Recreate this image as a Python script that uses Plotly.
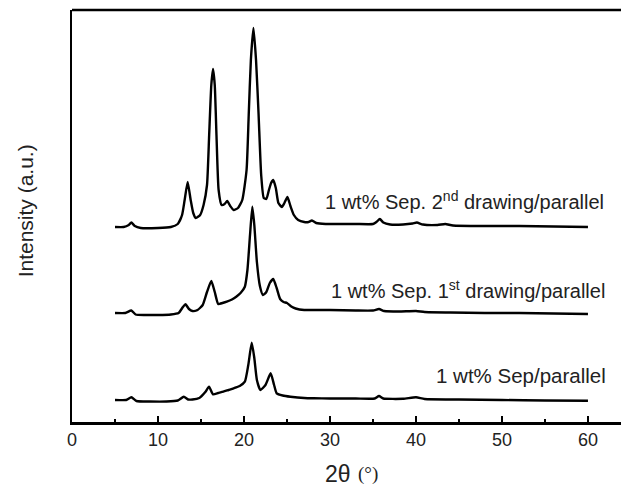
import plotly.graph_objects as go

# 2theta positions and intensities (arbitrary units)
top_x = [5.0, 6.0, 6.6, 6.9, 7.3, 8.0, 10.0, 11.5, 12.3, 12.8, 13.1, 13.45, 13.8, 14.1, 14.4, 14.9, 15.3,
         15.7, 15.95, 16.2, 16.4, 16.6, 16.8, 17.05, 17.4, 17.75, 18.05, 18.4, 18.8, 19.3, 19.8, 20.3,
         20.55, 20.8, 21.1, 21.4, 21.7, 22.0, 22.3, 22.6, 22.9, 23.15, 23.4, 23.7, 24.0, 24.4, 24.7,
         25.05, 25.4, 25.8, 26.3, 27.0, 27.5, 27.9, 28.4, 29.5, 31.0, 33.0, 35.0, 35.4, 35.8, 36.2,
         37.0, 38.5, 39.6, 40.1, 40.8, 42.5, 43.4, 44.3, 48.0, 52.0, 56.0, 60.0]
top_px = [227, 227, 225, 222.5, 226, 228, 228, 227, 224, 215, 200, 182, 200, 213, 218, 215, 205,
          185, 135, 85, 69, 85, 135, 190, 205, 204, 201, 206, 210, 208, 200, 170,
          115, 60, 28, 60, 115, 175, 198, 199, 190, 183, 180, 188, 203, 207, 203,
          197, 206, 215, 220, 222, 222, 220.5, 223, 224, 224, 224, 224, 222, 219, 222.5,
          224.5, 224.5, 223.5, 222.5, 224.5, 225, 224, 225.5, 226, 226, 226.5, 227]

mid_x = [5.0, 6.2, 6.9, 7.4, 8.5, 10.0, 11.5, 12.4, 12.9, 13.2, 13.6, 14.0, 14.6, 15.2, 15.7, 16.2,
         16.6, 17.0, 17.5, 18.0, 18.6, 19.1, 19.6, 20.1, 20.4, 20.7, 20.97, 21.2, 21.5, 21.85, 22.2,
         22.6, 23.0, 23.4, 23.8, 24.2, 24.6, 25.0, 25.5, 26.0, 27.0, 28.0, 30.0, 33.0, 35.0, 35.7,
         36.3, 38.0, 40.0, 41.0, 44.0, 48.0, 52.0, 56.0, 60.0]
mid_px = [313, 313, 310.5, 314.5, 315, 315, 314.5, 313, 307, 304.3, 309, 311, 310, 305, 292, 281,
          292, 304, 303, 301.7, 299.5, 296.7, 293, 286.7, 270, 235, 206.7, 225, 262, 286, 295,
          292, 283, 279, 288, 299, 302, 303, 306.5, 308.5, 310, 310, 310, 310.5, 310.5, 309,
          311, 311.5, 311, 312, 312.5, 313, 313, 313.5, 314]

bot_x = [5.0, 6.3, 6.9, 7.5, 9.0, 11.0, 12.3, 13.0, 13.5, 14.0, 14.8, 15.5, 15.93, 16.4, 17.0, 17.6,
         18.2, 18.8, 19.5, 20.1, 20.5, 20.9, 21.2, 21.5, 21.9, 22.5, 23.1, 23.5, 23.8, 24.5, 25.4,
         27.0, 28.1, 30.0, 33.0, 35.2, 35.7, 36.2, 38.5, 40.0, 41.0, 45.0, 50.0, 55.0, 60.0]
bot_px = [400, 400, 397.3, 401, 401.5, 401.5, 400.5, 396.7, 399.5, 399.5, 398, 392, 386.7, 394.3, 393, 391.7,
          390, 388.3, 386, 381.7, 365, 342.7, 358, 380, 390, 385, 373.3, 385, 393.3, 395.5, 396.7,
          398, 398.3, 398.5, 398.5, 398.5, 396, 398.5, 398.8, 397.3, 399, 399.5, 400, 400.5, 400.7]

BASE = 422
top_y = [BASE - v for v in top_px]
mid_y = [BASE - v for v in mid_px]
bot_y = [BASE - v for v in bot_px]

labels = ["1 wt% Sep. 2<sup>nd</sup> drawing/parallel",
          "1 wt% Sep. 1<sup>st</sup> drawing/parallel",
          "1 wt% Sep/parallel"]
label_x = [62.1, 62.2, 62.3]
label_y = [BASE - 200, BASE - 289, BASE - 375]

fig = go.Figure()
for xs, ys in [(top_x, top_y), (mid_x, mid_y), (bot_x, bot_y)]:
    fig.add_trace(go.Scatter(x=xs, y=ys, mode="lines",
                             line=dict(color="black", width=2.4, shape="spline", smoothing=0.5),
                             showlegend=False, hoverinfo="skip"))

label_sizes = [20, 20, 20.5]
for t, xx, yy, s in zip(labels, label_x, label_y, label_sizes):
    fig.add_annotation(x=xx, y=yy, text=t, showarrow=False, xanchor="right", yanchor="middle",
                       font=dict(family="Liberation Sans, Arial", size=s, color="#222"))

fig.add_annotation(xref="paper", yref="paper", x=-0.0822, y=0.512, text="Intensity (a.u.)",
                   textangle=-90, showarrow=False, xanchor="center", yanchor="middle",
                   font=dict(family="Liberation Sans, Arial", size=21, color="#222"))

fig.add_annotation(xref="paper", yref="paper", x=0.4947, y=-0.125, text="2θ",
                   showarrow=False, xanchor="right", yanchor="middle",
                   font=dict(family="Liberation Sans, Arial", size=23, color="#222"))
fig.add_annotation(xref="paper", yref="paper", x=0.5, y=-0.127, text="(°)",
                   showarrow=False, xanchor="left", yanchor="middle",
                   font=dict(family="Liberation Serif, serif", size=19, color="#222"))

fig.add_shape(type="line", xref="paper", yref="paper", x0=0, x1=1, y0=1, y1=1,
              line=dict(color="black", width=2.5))

fig.update_layout(
    width=640, height=486,
    margin=dict(l=72, r=0, t=10, b=64, autoexpand=False),
    paper_bgcolor="white", plot_bgcolor="white",
    xaxis=dict(range=[0, 66.05], tickvals=[0, 10, 20, 30, 40, 50, 60], automargin=False,
               ticks="inside", ticklen=6, tickwidth=2, tickcolor="black",
               minor=dict(tickvals=[5, 15, 25, 35, 45, 55], ticks="inside", ticklen=3, tickwidth=2,
                          tickcolor="black"),
               showline=True, linewidth=2.5, linecolor="black", mirror=False,
               showgrid=False, zeroline=False,
               tickfont=dict(family="Liberation Sans, Arial", size=18, color="#222")),
    yaxis=dict(range=[0, 412], showticklabels=False, ticks="", automargin=False,
               showline=True, linewidth=2.5, linecolor="black",
               showgrid=False, zeroline=False),
)

fig.write_html("out.html", config={"displayModeBar": False, "staticPlot": True},
               post_script="document.documentElement.style.overflow='hidden';document.body.style.margin='0';document.body.style.overflow='hidden';")
